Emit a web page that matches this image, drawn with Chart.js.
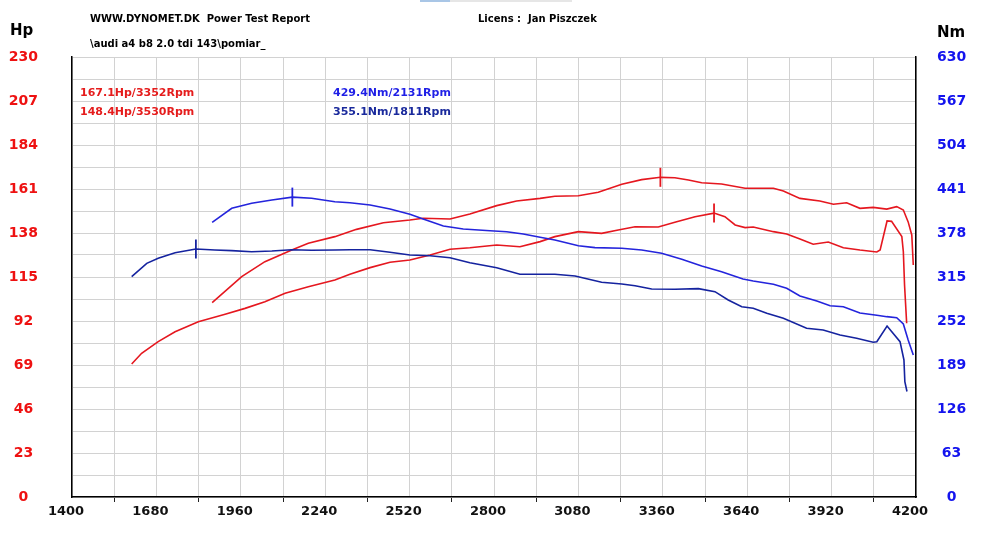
<!DOCTYPE html>
<html><head><meta charset="utf-8">
<script src="https://cdn.jsdelivr.net/npm/chart.js@4"></script>
<style>
body{margin:0;background:#fff;}
#wrap{position:relative;width:1000px;height:535px;overflow:hidden;font-family:"DejaVu Sans",Verdana,sans-serif;font-weight:bold;}
canvas{position:absolute;left:0;top:0;}
.t{position:absolute;white-space:pre;line-height:1;}
</style></head><body>
<div id="wrap">
<canvas id="c" width="1000" height="535"></canvas>
<div style="position:absolute;left:420px;top:0;width:30px;height:2px;background:#a9c6e6"></div>
<div style="position:absolute;left:450px;top:0;width:122px;height:2px;background:#e6e6e6"></div>
<div class="t" style="left:90px;top:14px;font-size:10px;color:#000">WWW.DYNOMET.DK  Power Test Report</div>
<div class="t" style="left:478px;top:14px;font-size:10px;color:#000">Licens :  Jan Piszczek</div>
<div class="t" style="left:90px;top:39px;font-size:10px;color:#000">\audi a4 b8 2.0 tdi 143\pomiar_</div>
<div class="t" style="left:10px;top:23px;font-size:15px;color:#000">Hp</div>
<div class="t" style="left:937px;top:25px;font-size:15px;color:#000">Nm</div>
<div class="t" style="left:80px;top:87px;font-size:11px;color:#e51c1c">167.1Hp/3352Rpm</div>
<div class="t" style="left:80px;top:106px;font-size:11px;color:#e51c1c">148.4Hp/3530Rpm</div>
<div class="t" style="left:333px;top:87px;font-size:11px;color:#1f1fe6">429.4Nm/2131Rpm</div>
<div class="t" style="left:333px;top:106px;font-size:11px;color:#1a2a9c">355.1Nm/1811Rpm</div>
</div>
<script>
// Run A (higher power) — power curve
const rpmHpA = [1865,1963,2040,2129,2184,2272,2344,2433,2521,2565,2654,2720,2809,2875,2953,3002,3080,3146,3224,3290,3352,3400,3445,3489,3555,3633,3727,3760,3815,3881,3926,3970,4014,4058,4103,4136,4158,4174,4186,4191];
const hpA    = [101.6,115.2,123.0,129.1,132.6,136.1,139.9,143.4,144.8,145.7,145.3,147.9,152.3,154.7,156.1,157.2,157.5,159.3,163.5,165.9,167.1,166.9,165.7,164.3,163.6,161.4,161.4,160.0,156.1,154.7,153.0,153.8,150.9,151.4,150.5,151.8,150.0,143.8,137.0,121.3];
// Run B — power curve
const rpmHpB = [1598,1631,1686,1742,1819,1908,1974,2040,2107,2184,2272,2322,2389,2455,2521,2588,2654,2720,2809,2886,2953,3002,3080,3157,3212,3268,3345,3400,3467,3530,3566,3600,3633,3660,3727,3771,3815,3859,3909,3959,4014,4070,4081,4104,4119,4153,4158,4162,4169];
const hpB    = [69.5,75.1,81.2,86.4,91.6,95.5,98.6,102.1,106.5,109.9,113.4,116.4,119.9,122.7,123.9,126.5,129.5,130.3,131.7,130.8,133.5,136.1,138.7,137.8,139.6,141.3,141.1,143.6,146.5,148.4,146.5,142.2,140.8,141.1,138.7,137.5,134.9,132.1,133.3,130.3,129.1,128.1,129.1,144.3,144.1,136.1,128.2,110.8,90.8];
// Run A — torque curve
const rpmNmA = [1865,1930,1996,2063,2131,2195,2272,2322,2389,2455,2521,2565,2632,2698,2787,2842,2897,2953,3002,3080,3135,3224,3290,3356,3423,3489,3555,3626,3660,3727,3771,3815,3871,3915,3959,4014,4070,4103,4136,4158,4174,4191];
const nmA    = [393.3,413.4,420.5,425.2,429.4,427.7,422.8,421.4,418.1,412.4,404.8,398.0,388.0,383.7,381.3,379.9,376.6,371.8,368.0,359.8,357.0,356.1,353.7,348.9,340.3,330.8,322.6,312.1,309.3,304.5,298.8,287.8,280.6,273.9,272.5,263.5,260.2,258.2,256.7,247.7,224.8,203.3];
// Run B — torque curve
const rpmNmB = [1598,1648,1686,1742,1811,1874,1930,1996,2063,2129,2195,2272,2322,2389,2455,2521,2588,2654,2720,2809,2886,2953,3002,3069,3157,3224,3268,3323,3400,3478,3533,3577,3622,3660,3705,3760,3837,3892,3948,4003,4058,4070,4104,4147,4160,4163,4170];
const nmB    = [315.4,334.6,341.8,349.8,355.1,353.7,352.7,351.2,352.2,354.1,353.2,353.7,354.1,354.1,350.4,346.5,345.5,342.6,335.5,328.3,318.9,318.9,318.9,316.4,307.4,305.0,302.5,297.8,297.4,298.3,294.0,282.1,272.5,270.2,263.0,255.9,241.5,239.1,232.0,227.2,221.5,222.4,244.8,222.4,196.2,165.1,151.1];
// Peak markers
const peakHpA = {rpm:3352, value:167.1};
const peakHpB = {rpm:3530, value:148.4};
const peakNmA = {rpm:2131, value:429.4};
const peakNmB = {rpm:1811, value:355.1};
// Axis ranges / ticks
const rpmMin = 1400, rpmMax = 4200, rpmGridStep = 140, rpmLabelStep = 280;
const hpMax = 230, hpLabelStep = 23;
const nmMax = 630, nmLabelStep = 63;

const RED = '#e5171f', BLUE_A = '#2424dc', BLUE_B = '#15239f';
const pts = (xs, ys) => xs.map((x, i) => ({x, y: ys[i]}));
const lineDs = (data, color, axis) => ({type:'line', data, borderColor:color, borderWidth:1.6, pointRadius:0, tension:0, yAxisID:axis, fill:false});
const markDs = (p, color, axis) => ({type:'scatter', data:[{x:p.rpm, y:p.value}], pointStyle:'line', rotation:90, pointRadius:9.5, borderColor:color, pointBorderColor:color, pointBorderWidth:1.8, yAxisID:axis});
const noPad = s => { s.paddingTop = 0; s.paddingBottom = 0; };

new Chart(document.getElementById('c'), {
  type: 'line',
  data: {datasets: [
    lineDs(pts(rpmNmB, nmB), BLUE_B, 'yNm'),
    lineDs(pts(rpmNmA, nmA), BLUE_A, 'yNm'),
    lineDs(pts(rpmHpB, hpB), RED, 'yHp'),
    lineDs(pts(rpmHpA, hpA), RED, 'yHp'),
    markDs(peakNmB, BLUE_B, 'yNm'),
    markDs(peakNmA, BLUE_A, 'yNm'),
    markDs(peakHpB, RED, 'yHp'),
    markDs(peakHpA, RED, 'yHp')
  ]},
  options: {
    responsive:false, animation:false, devicePixelRatio:1,
    layout:{padding:{top:57,left:0,right:0,bottom:0}},
    plugins:{legend:{display:false}, tooltip:{enabled:false}},
    scales:{
      x:{type:'linear', min:rpmMin, max:rpmMax,
        afterFit:s=>{s.height=38; s.paddingLeft=0; s.paddingRight=0;},
        border:{color:'#000', width:1.5},
        grid:{color:'#d2d2d2', lineWidth:1, tickLength:5,
          tickColor:ctx => (ctx.tick && ctx.tick.value % rpmLabelStep !== 0) ? '#222' : 'rgba(0,0,0,0)'},
        ticks:{stepSize:rpmGridStep, autoSkip:false, maxRotation:0, padding:2, labelOffset:-6,
          color:'#111', font:{family:'"DejaVu Sans", Verdana, sans-serif', size:13, weight:'bold'},
          callback:v => (v % rpmLabelStep === 0) ? String(v) : ''}
      },
      yHp:{type:'linear', position:'left', min:0, max:hpMax,
        afterFit:s=>{s.width=72; noPad(s);},
        border:{color:'#000', width:1.5},
        grid:{color:'#d2d2d2', lineWidth:1, drawTicks:false},
        ticks:{stepSize:hpLabelStep/2, autoSkip:false, crossAlign:'center', padding:34,
          color:'#ee1111', font:{family:'"DejaVu Sans", Verdana, sans-serif', size:14, weight:'bold'},
          callback:(v,i) => (i % 2 === 0) ? String(Math.round(v)) : ''}
      },
      yNm:{type:'linear', position:'right', min:0, max:nmMax,
        afterFit:s=>{s.width=84; noPad(s);},
        border:{color:'#000', width:1.5},
        grid:{drawOnChartArea:false, drawTicks:false},
        ticks:{stepSize:nmLabelStep, autoSkip:false, crossAlign:'center', padding:21,
          color:'#1414ee', font:{family:'"DejaVu Sans", Verdana, sans-serif', size:14, weight:'bold'},
          callback:v => String(Math.round(v))}
      }
    }
  }
});
</script>
</body></html>
